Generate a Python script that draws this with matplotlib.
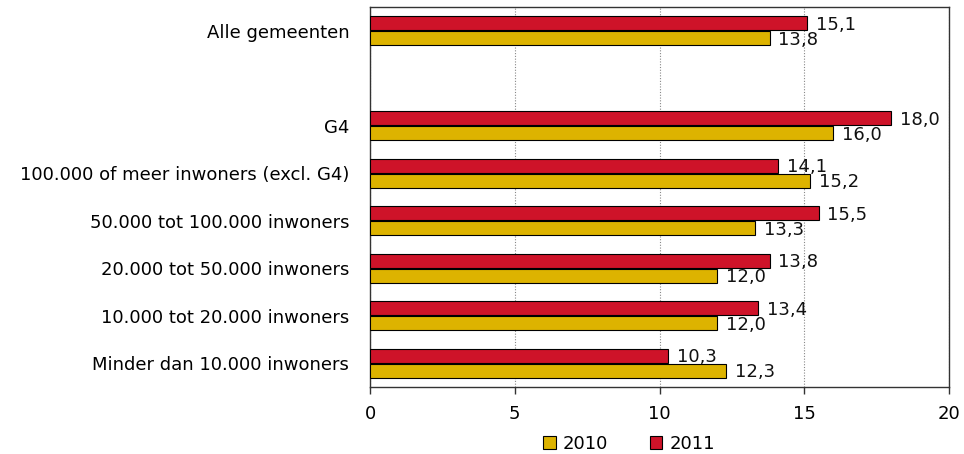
import matplotlib
matplotlib.use("Agg")
import matplotlib.pyplot as plt
from matplotlib.patches import Patch

categories = ["Alle gemeenten", "", "G4", "100.000 of meer inwoners (excl. G4)",
              "50.000 tot 100.000 inwoners", "20.000 tot 50.000 inwoners",
              "10.000 tot 20.000 inwoners", "Minder dan 10.000 inwoners"]
values_2010 = [13.8, None, 16.0, 15.2, 13.3, 12.0, 12.0, 12.3]
values_2011 = [15.1, None, 18.0, 14.1, 15.5, 13.8, 13.4, 10.3]
series_labels = ["2010", "2011"]
xticks = [0, 5, 10, 15, 20]

c2010 = "#DDB300"
c2011 = "#CE1329"
FS = 13

plt.rcParams['font.family'] = ['DejaVu Sans']
fig = plt.figure(figsize=(9.64, 4.54), dpi=100)
ax = fig.add_axes([370/964, 1-387/454, (949-370)/964, (387-7)/454])

h = 0.29
off = 0.16
for i, (v10, v11) in enumerate(zip(values_2010, values_2011)):
    if v10 is not None:
        ax.barh(i + off, v10, height=h, color=c2010, edgecolor="black", linewidth=0.8, zorder=3)
        ax.text(v10 + 0.3, i + off + 0.03, f"{v10:.1f}".replace(".", ","), va="center", ha="left",
                fontsize=FS, color="#111111", zorder=4)
    if v11 is not None:
        ax.barh(i - off, v11, height=h, color=c2011, edgecolor="black", linewidth=0.8, zorder=3)
        ax.text(v11 + 0.3, i - off + 0.03, f"{v11:.1f}".replace(".", ","), va="center", ha="left",
                fontsize=FS, color="#111111", zorder=4)

ax.set_ylim(len(categories) - 0.5, -0.5)
ax.set_yticks(range(len(categories)))
ax.set_yticklabels(categories, fontsize=FS)
ax.tick_params(axis="y", length=0, pad=15)
ax.set_xlim(0, 20)
ax.set_xticks(xticks)
ax.set_xticklabels([str(t) for t in xticks], fontsize=FS)
ax.tick_params(axis="x", length=5, width=1, pad=8, color="#333333")
ax.xaxis.grid(True, linestyle=(0, (1, 1.5)), color="#888888", linewidth=0.8, zorder=0)
for s in ax.spines.values():
    s.set_color("#333333")
    s.set_linewidth(1.0)

handles = [Patch(facecolor=c2010, edgecolor="black", linewidth=0.8),
           Patch(facecolor=c2011, edgecolor="black", linewidth=0.8)]
fig.legend(handles, series_labels, loc="center", bbox_to_anchor=(629/964, 1-444/454),
           ncol=2, frameon=False, fontsize=FS, handlelength=0.7, handleheight=0.7,
           handletextpad=0.4, columnspacing=2.3, borderpad=0)

fig.savefig("out.png", dpi=100)
